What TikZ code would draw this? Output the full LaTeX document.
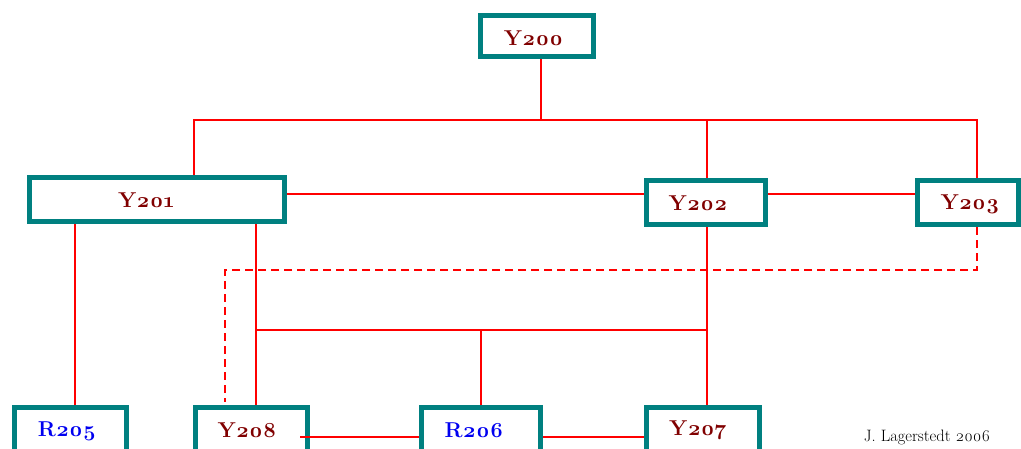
\documentclass[tikz,border=0pt]{standalone}
\usepackage{fontspec}
\setmainfont{Latin Modern Roman}[Numbers=OldStyle]
\definecolor{boxteal}{HTML}{008080}
\definecolor{ytext}{HTML}{800000}
\definecolor{rtext}{HTML}{0000F0}
\definecolor{wirered}{HTML}{FF0000}
\begin{document}
\begin{tikzpicture}[x=1pt,y=-1pt,
  box/.style={draw=boxteal, line width=5pt, inner sep=0pt, anchor=center},
  lbl/.style={inner sep=0pt, anchor=center, font=\bfseries\fontsize{21.5}{21.5}\selectfont},
  ylbl/.style={lbl, text=ytext},
  rlbl/.style={lbl, text=rtext},
  wire/.style={draw=wirered, line width=1.6pt},
  dwire/.style={wire, dash pattern=on 8pt off 5pt}]
\useasboundingbox (0,0) rectangle (1021,448);
% boxes
\node[box, minimum width=113pt, minimum height=41pt] (Y200) at (537,36) {};
\node[box, minimum width=255pt, minimum height=44pt] (Y201) at (157,199.5) {};
\node[box, minimum width=119pt, minimum height=44pt] (Y202) at (706,202.5) {};
\node[box, minimum width=101pt, minimum height=44pt] (Y203) at (968,202.5) {};
\node[box, minimum width=112pt, minimum height=47pt] (R205) at (70.5,431) {};
\node[box, minimum width=112pt, minimum height=47pt] (Y208) at (251.5,431) {};
\node[box, minimum width=119pt, minimum height=47pt] (R206) at (481,431) {};
\node[box, minimum width=113pt, minimum height=47pt] (Y207) at (703,431) {};
% labels
\node[ylbl] (Y200t) at (533.5,38) {Y200};
\node[ylbl] (Y201t) at (146,200) {Y201};
\node[ylbl] (Y202t) at (698,203) {Y202};
\node[ylbl] (Y203t) at (970,204) {Y203};
\node[rlbl] (R205t) at (67,431) {R205};
\node[ylbl] (Y208t) at (247,430) {Y208};
\node[rlbl] (R206t) at (474,430) {R206};
\node[ylbl] (Y207t) at (698,430) {Y207};
\node[font=\fontsize{16.5}{16.5}\selectfont, text=black, inner sep=0pt] (author) at (927,437) {J. Lagerstedt 2006};
% junction coordinates
\coordinate (topbus) at (541,120);
\coordinate (busL) at (194,120);
\coordinate (busM) at (707,120);
\coordinate (busR) at (977,120);
\coordinate (midL) at (256,330);
\coordinate (midR) at (707,330);
\coordinate (midC) at (481,330);
\coordinate (dR) at (977,270);
\coordinate (dL) at (225,270);
\coordinate (y208out) at (300,437);
% wires
\draw[wire] (541,0 |- Y200.south) -- (topbus);
\draw[wire] (194,0 |- Y201.north) -- (busL) -- (busR) -- (977,0 |- Y203.north);
\draw[wire] (busM) -- (707,0 |- Y202.north);
\draw[wire] (Y201.east |- 0,194) -- (Y202.west |- 0,194);
\draw[wire] (Y202.east |- 0,194) -- (Y203.west |- 0,194);
\draw[wire] (75,0 |- Y201.south) -- (75,0 |- R205.north);
\draw[wire] (256,0 |- Y201.south) -- (256,0 |- Y208.north);
\draw[wire] (707,0 |- Y202.south) -- (707,0 |- Y207.north);
\draw[wire] (midL) -- (midR);
\draw[wire] (midC) -- (481,0 |- R206.north);
\draw[dwire] (977,0 |- Y203.south) -- (dR) -- (dL) -- (225,402);
\draw[wire] (y208out) -- (R206.west |- 0,437);
\draw[wire] (R206.east |- 0,437) -- (Y207.west |- 0,437);
\end{tikzpicture}
\end{document}
